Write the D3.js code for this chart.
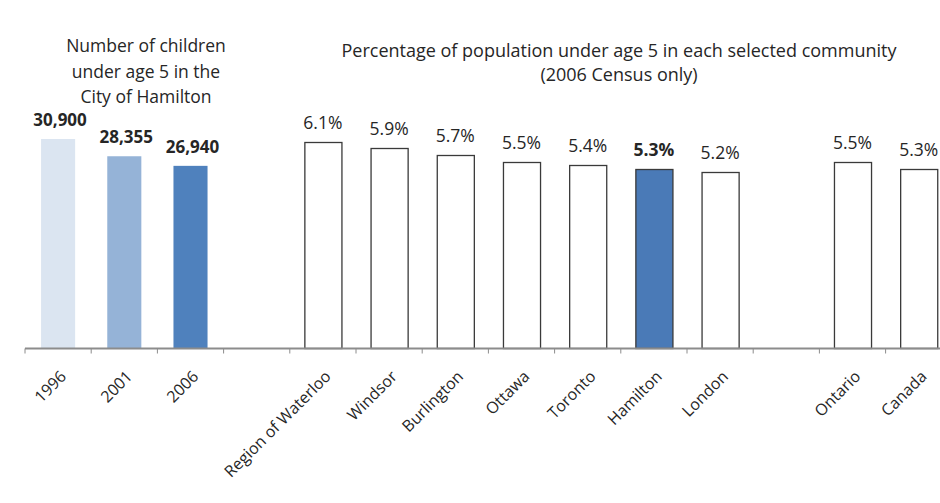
<!DOCTYPE html>
<html>
<head>
<meta charset="utf-8">
<script src="https://cdn.jsdelivr.net/npm/d3@7"></script>
<style>
  body { margin: 0; background: #fff; }
  svg { display: block; font-family: "Open Sans", sans-serif; }
</style>
</head>
<body>
<div id="chart"></div>
<script>
var width = 940, height = 503;

// all slots along the axis, gaps included
var slots = ["1996", "2001", "2006", "gap1", "Region of Waterloo", "Windsor", "Burlington",
	"Ottawa", "Toronto", "Hamilton", "London", "gap2", "Ontario", "Canada"];

var years = ["1996", "2001", "2006"];
var children = [30900, 28355, 26940];
var yearColors = ["#dbe5f1", "#95b3d7", "#4f81bd"];

var communities = ["Region of Waterloo", "Windsor", "Burlington", "Ottawa", "Toronto", "Hamilton", "London", "Ontario", "Canada"];
var percents = [6.1, 5.9, 5.7, 5.5, 5.4, 5.3, 5.2, 5.5, 5.3];
var highlight = "Hamilton";

var axisY = 348.5;

var svg = d3.select("#chart").append("svg")
	.attr("width", width)
	.attr("height", height);

var x = d3.scaleBand()
	.domain(slots)
	.range([25, 25 + 14 * 66.2])
	.paddingInner(0.44)
	.paddingOuter(0.22);

var yCount = d3.scaleLinear().domain([0, 35000]).range([axisY, 111.2]);
var yPct = d3.scaleLinear().domain([0, 7]).range([axisY, 111.2]);

var leftData = years.map(function(d, i){ return {k: d, v: children[i], c: yearColors[i]}; });
var rightData = communities.map(function(d, i){ return {k: d, v: percents[i]}; });

// left panel: counts
svg.append("g").selectAll("rect")
	.data(leftData)
	.enter().append("rect")
	.attr("x", function(d){ return x(d.k) + 1.5; })
	.attr("width", x.bandwidth() - 3)
	.attr("y", function(d){ return yCount(d.v); })
	.attr("height", function(d){ return axisY - yCount(d.v); })
	.attr("fill", function(d){ return d.c; });

svg.append("g").selectAll("text")
	.data(leftData)
	.enter().append("text")
	.attr("x", function(d){ return x(d.k) + x.bandwidth() / 2 + 2; })
	.attr("y", function(d){ return yCount(d.v) - 13; })
	.attr("text-anchor", "middle")
	.attr("font-size", 17)
	.attr("font-weight", "bold")
	.attr("fill", "#262626")
	.text(function(d){ return d3.format(",")(d.v); });

// right panel: percentages
svg.append("g").selectAll("rect")
	.data(rightData)
	.enter().append("rect")
	.attr("x", function(d){ return x(d.k) + 0.5; })
	.attr("width", x.bandwidth())
	.attr("y", function(d){ return Math.round(yPct(d.v)) + 0.5; })
	.attr("height", function(d){ return axisY - Math.round(yPct(d.v)) - 0.5; })
	.attr("fill", function(d){ return d.k == highlight ? "#4a7ab7" : "#fff"; })
	.attr("stroke", "#3a3a3a")
	.attr("stroke-width", 1.3);

svg.append("g").selectAll("text")
	.data(rightData)
	.enter().append("text")
	.attr("x", function(d){ return x(d.k) + x.bandwidth() / 2; })
	.attr("y", function(d){ return yPct(d.v) - 13; })
	.attr("text-anchor", "middle")
	.attr("font-size", 17.5)
	.attr("font-weight", function(d){ return d.k == highlight ? "bold" : "normal"; })
	.attr("fill", "#262626")
	.text(function(d){ return d.v.toFixed(1) + "%"; });

// axis line and boundary ticks
var bounds = slots.map(function(d){ return x(d) - x.step() * x.paddingInner() / 2; });
bounds.push(x.range()[1]);

var ax = svg.append("g");
ax.append("line")
	.attr("x1", 25).attr("x2", width)
	.attr("y1", axisY).attr("y2", axisY)
	.attr("stroke", "#8c8c8c")
	.attr("stroke-width", 2);
ax.selectAll(".tick")
	.data(bounds)
	.enter().append("line")
	.attr("class", "tick")
	.attr("x1", function(d){ return d; }).attr("x2", function(d){ return d; })
	.attr("y1", axisY).attr("y2", axisY + 5)
	.attr("stroke", "#8c8c8c")
	.attr("stroke-width", 1);

ax.selectAll(".lab")
	.data(slots.filter(function(d){ return d.indexOf("gap") != 0; }))
	.enter().append("text")
	.attr("class", "lab")
	.attr("text-anchor", "end")
	.attr("font-size", 16)
	.attr("fill", "#262626")
	.attr("transform", function(d){
		return "translate(" + (x(d) + x.bandwidth() / 2 + 9) + "," + (axisY + 29) + ") rotate(-45)";
	})
	.text(function(d){ return d; });

// titles
var t1 = svg.append("text")
	.attr("text-anchor", "middle")
	.attr("font-size", 17.5)
	.attr("fill", "#262626");
["Number of children", "under age 5 in the", "City of Hamilton"].forEach(function(s, i){
	t1.append("tspan").attr("x", 146).attr("y", 52 + i * 25.5).text(s);
});

var t2 = svg.append("text")
	.attr("text-anchor", "middle")
	.attr("font-size", 18)
	.attr("fill", "#262626");
["Percentage of population under age 5 in each selected community", "(2006 Census only)"].forEach(function(s, i){
	t2.append("tspan").attr("x", 619).attr("y", 57 + i * 24).text(s);
});
</script>
</body>
</html>
